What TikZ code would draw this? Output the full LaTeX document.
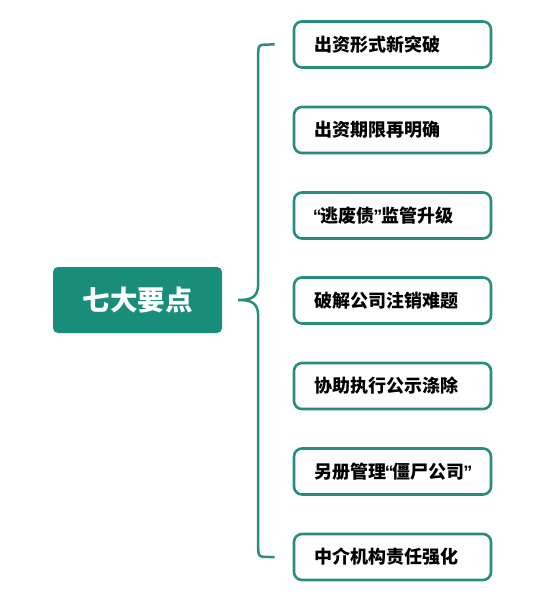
\documentclass[tikz,border=0pt]{standalone}
\usepackage{fontspec}
\newfontfamily\cjk{Noto Sans CJK SC}
\newfontfamily\qfont{Liberation Sans}
\usetikzlibrary{positioning,calc}
\definecolor{teal1}{RGB}{24,142,122}
\definecolor{teal2}{RGB}{40,140,126}
\newcommand{\qopen}{\makebox[6.5pt][c]{\qfont\bfseries “}}
\newcommand{\qclose}{\makebox[6.5pt][c]{\qfont\bfseries ”}}

\begin{document}
\begin{tikzpicture}[x=1pt,y=-1pt,
    mainbox/.style={fill=teal1,text=white,rounded corners=5pt,minimum width=169pt,
      minimum height=66pt,font=\cjk\bfseries\fontsize{27.5}{30}\selectfont},
    itembox/.style={draw=teal2,line width=2.6pt,rounded corners=8pt,text width=157pt,
      inner xsep=20pt,inner ysep=0pt,minimum height=46pt,align=left,
      font=\cjk\bfseries\fontsize{18}{20}\selectfont},
    brace/.style={draw=teal2,line width=2.5pt}]
                \useasboundingbox (0,0) rectangle (543,591);
                \node[mainbox] (main) at (137.5,300) {七大要点};
                \node[itembox] (p1) at (392.5,44.5) {出资形式新突破};
                \node[itembox] (p2) at (392.5,130) {出资期限再明确};
                \node[itembox] (p3) at (392.5,215.5) {\qopen 逃废债\qclose 监管升级};
                \node[itembox] (p4) at (392.5,300.5) {破解公司注销难题};
                \node[itembox] (p5) at (392.5,386) {协助执行公示涤除};
                \node[itembox] (p6) at (392.5,471.5) {另册管理\qopen 僵尸公司\qclose};
                \node[itembox] (p7) at (392.5,557) {中介机构责任强化};
                % brace
                \coordinate (tip) at ([xshift=16pt]main.east);
                \coordinate (top) at ([xshift=-18pt]p1.west);
                \coordinate (bot) at ([xshift=-18pt]p7.west);
                \draw[brace] (top) -- ($(tip|-top)+(32,0)$)
                  .. controls ($(tip|-top)+(20,0)$) .. ($(tip|-top)+(20,12)$)
                  -- ($(tip)+(20,-16)$)
                  .. controls ($(tip)+(20,-2)$) and ($(tip)+(12,0)$) .. (tip)
                  .. controls ($(tip)+(12,0)$) and ($(tip)+(20,2)$) .. ($(tip)+(20,16)$)
                  -- ($(tip|-bot)+(20,-12)$)
                  .. controls ($(tip|-bot)+(20,0)$) .. ($(tip|-bot)+(32,0)$) -- (bot);
            \end{tikzpicture}
\end{document}
